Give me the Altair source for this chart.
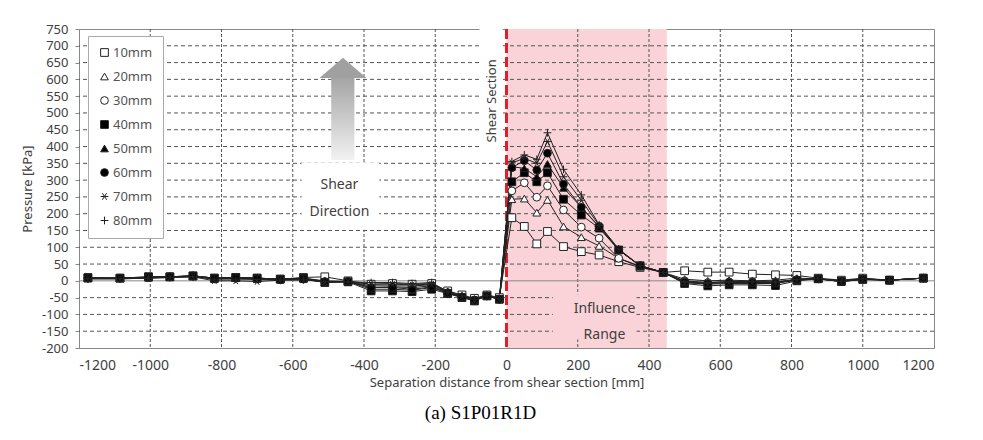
import altair as alt
import pandas as pd

# ---------------- data ----------------
x_left = [-1175, -1085, -1005, -945, -880, -820, -760, -700, -635, -570, -510,
          -445, -380, -320, -265, -210, -165, -125, -90, -55, -20]
x_right = [15, 50, 85, 115, 160, 210, 260, 315, 375, 440, 500,
           565, 625, 690, 755, 815, 875, 940, 1000, 1075, 1170]
x_pos = x_left + x_right

series_names = ["10mm", "20mm", "30mm", "40mm", "50mm", "60mm", "70mm", "80mm"]

p10 = [8, 8, 12, 12, 14, 8, 10, 8, 5, 10, 12, 0, -10, -8, -10, -8, -30, -42, -52, -42, -50,
       188, 162, 110, 147, 102, 87, 77, 57, 40, 25, 30, 26, 26, 20, 18, 16, 8, 2, 8, 2, 8]
p20 = [8, 8, 10, 12, 15, 8, 10, 8, 5, 8, 0, -2, -15, -15, -15, -12, -32, -45, -55, -45, -52,
       243, 245, 203, 241, 162, 130, 104, 67, 42, 25, 5, 0, 2, 0, 2, 8, 6, 0, 6, 2, 8]
p30 = [8, 8, 10, 12, 15, 8, 10, 8, 5, 8, -2, -2, -20, -18, -20, -15, -35, -48, -57, -45, -54,
       268, 292, 249, 283, 211, 160, 127, 67, 44, 25, 0, -5, -3, -3, -4, 4, 6, 0, 6, 2, 8]
p40 = [10, 8, 12, 12, 15, 8, 10, 8, 5, 8, -5, -3, -30, -30, -32, -25, -38, -50, -60, -45, -55,
       295, 322, 295, 322, 243, 196, 157, 92, 45, 25, -8, -15, -12, -12, -14, 0, 6, -2, 4, 2, 8]
p50 = [8, 8, 10, 12, 14, 6, 8, 6, 5, 6, -5, -2, -25, -25, -28, -20, -37, -48, -58, -45, -55,
       340, 335, 310, 348, 277, 219, 160, 92, 45, 25, -5, -10, -8, -8, -8, 2, 6, -2, 4, 2, 8]
p60 = [8, 8, 10, 12, 14, 6, 8, 6, 3, 5, -3, -2, -20, -20, -25, -18, -36, -48, -58, -45, -55,
       337, 358, 330, 380, 288, 219, 162, 92, 45, 25, -3, -8, -5, -5, -6, 3, 6, -2, 5, 2, 8]
p70 = [6, 6, 8, 10, 12, 0, 0, -2, 2, 3, -3, -3, -10, -10, -12, -10, -34, -46, -56, -45, -54,
       351, 365, 350, 415, 310, 240, 165, 92, 45, 25, -5, -8, -5, -4, -5, 3, 6, -2, 5, 2, 8]
p80 = [6, 6, 8, 10, 12, 5, 5, 4, 3, 3, -2, -3, -5, -5, -8, -5, -33, -45, -55, -44, -53,
       355, 375, 362, 441, 332, 256, 167, 95, 45, 25, -2, -5, -2, -2, -3, 4, 6, -1, 6, 2, 8]
all_series = [p10, p20, p30, p40, p50, p60, p70, p80]

x_ticks = [-1200, -1000, -800, -600, -400, -200, 0, 200, 400, 600, 800, 1000, 1200]
y_ticks = list(range(-200, 751, 50))
x_grid = [-1000, -800, -600, -400, -200, 200, 400, 600, 800, 1000]
y_grid = [v for v in range(-150, 701, 50) if v != 0]

shape_range = ["square", "triangle-up", "circle", "square", "triangle-up", "circle",
               "M-1,0H1M-0.55,-0.85L0.55,0.85M-0.55,0.85L0.55,-0.85",
               "M-1,0H1M0,-1V1"]
fill_range = ["white", "white", "white", "black", "black", "black", "black", "black"]
stroke_range = ["#222"] * 8

rows = []
for name, vals in zip(series_names, all_series):
    for xv, yv in zip(x_pos, vals):
        rows.append({"series": name, "x": xv, "y": yv})
df = pd.DataFrame(rows)

# annotation data (data units)
influence_zone = pd.DataFrame({"x": [0], "x2": [450], "y": [-200], "y2": [750]})
white_boxes = pd.DataFrame({"x": [-575, -76], "x2": [-357, -11], "y": [152, 381], "y2": [351, 750]})
pink_box = pd.DataFrame({"x": [130], "x2": [365], "y": [-40], "y2": [-175]})
arrow_shaft = pd.DataFrame({"x": [-492], "x2": [-427], "y": [360], "y2": [606]})
arrow_head = pd.DataFrame({"x": [-459], "y": [634]})
labels_h = pd.DataFrame({"x": [-469, -469, 275, 275], "y": [284, 206, -83, -161],
                         "t": ["Shear", "Direction", "Influence", "Range"]})
label_v = pd.DataFrame({"x": [-41], "y": [536], "t": ["Shear Section"]})
zero_df = pd.DataFrame({"y": [0]})
shear_line = pd.DataFrame({"x": [0]})

FONT = "Noto Sans"
TXT = "#404040"

xs = alt.Scale(domain=[-1200, 1200], nice=False, zero=False)
ys = alt.Scale(domain=[-200, 750], nice=False, zero=False)

x_axis = alt.Axis(values=x_ticks, grid=False, ticks=False, labelFontSize=14, labelColor=TXT,
                  labelFont=FONT, labelPadding=10, domainColor="#888",
                  labelExpr="datum.value + ''",
                  title="Separation distance from shear section [mm]", titleFont=FONT,
                  titleFontSize=13, titleFontWeight="normal", titleColor=TXT, titlePadding=4)
y_axis = alt.Axis(values=y_ticks, grid=False, tickSize=4, tickColor="#888", labelFontSize=13,
                  labelColor=TXT, labelFont=FONT, labelPadding=7, domainColor="#888",
                  labelExpr="datum.value + ''",
                  title="Pressure [kPa]", titleFont=FONT, titleFontSize=13,
                  titleFontWeight="normal", titleColor=TXT, titlePadding=7)


def X(field="x"):
    return alt.X(f"{field}:Q", scale=xs, axis=x_axis)


def Y(field="y"):
    return alt.Y(f"{field}:Q", scale=ys, axis=y_axis)


zone = alt.Chart(influence_zone).mark_rect(color="#f9d3d7").encode(
    x=X(), x2="x2", y=Y(), y2="y2")

vgrid = alt.Chart(pd.DataFrame({"x": x_grid})).mark_rule(
    color="#555", strokeWidth=1, strokeDash=[3, 2]).encode(x=X())
hgrid = alt.Chart(pd.DataFrame({"y": y_grid})).mark_rule(
    color="#555", strokeWidth=1, strokeDash=[4, 3]).encode(y=Y())
zero = alt.Chart(zero_df).mark_rule(color="#888", strokeWidth=1).encode(y=Y())

wbox = alt.Chart(white_boxes).mark_rect(color="white").encode(
    x=X(), x2="x2", y=Y(), y2="y2")
pbox = alt.Chart(pink_box).mark_rect(color="#f9d3d7").encode(
    x=X(), x2="x2", y=Y(), y2="y2")

shaft = alt.Chart(arrow_shaft).mark_rect(
    color=alt.LinearGradient(gradient="linear",
                             stops=[alt.GradientStop(color="#a4a4a4", offset=0),
                                    alt.GradientStop(color="#f2f2f2", offset=1)],
                             x1=0, x2=0, y1=0, y2=1)).encode(
    x=X(), x2="x2", y=Y(), y2="y2")
head = alt.Chart(arrow_head).mark_point(
    shape="M-1,0.43L0,-0.43L1,0.43Z", size=2209, filled=True, color="#a0a0a0", opacity=1).encode(
    x=X(), y=Y())

txt_h = alt.Chart(labels_h).mark_text(font=FONT, fontSize=14, color=TXT).encode(
    x=X(), y=Y(), text="t:N")
txt_v = alt.Chart(label_v).mark_text(font=FONT, fontSize=13, color=TXT, angle=270).encode(
    x=X(), y=Y(), text="t:N")

red = alt.Chart(shear_line).mark_rule(color="#e41e26", strokeWidth=3, strokeDash=[10, 4]).encode(
    x=X())

lines = alt.Chart(df).mark_line(color="#222", strokeWidth=1).encode(
    x=X(), y=Y(), detail="series:N", order="x:Q")

leg = alt.Legend(title=None, orient="none", legendX=9, legendY=7, fillColor="white",
                 strokeColor="#aaa", padding=10, rowPadding=10, labelFontSize=13,
                 labelColor="#555", labelFont=FONT, symbolSize=60,
                 symbolStrokeWidth=1, labelOffset=2)
points = alt.Chart(df).mark_point(size=60, strokeWidth=1, opacity=1).encode(
    x=X(), y=Y(),
    shape=alt.Shape("series:N", scale=alt.Scale(domain=series_names, range=shape_range),
                    legend=leg),
    fill=alt.Fill("series:N", scale=alt.Scale(domain=series_names, range=fill_range),
                  legend=leg),
    stroke=alt.Stroke("series:N", scale=alt.Scale(domain=series_names, range=stroke_range),
                      legend=leg))

chart = alt.layer(zone, vgrid, hgrid, zero, wbox, pbox, shaft, head, txt_h, txt_v, red,
                  lines, points).properties(
    width=855, height=319,
    autosize=alt.AutoSizeParams(type="none"),
    padding={"left": 71, "top": 21, "right": 41, "bottom": 84},
    title=alt.TitleParams("(a)  S1P01R1D", orient="bottom", font="Liberation Serif",
                          fontSize=19, fontWeight="normal", color="black", anchor="middle",
                          dx=-26, offset=15),
).configure_view(stroke="#888", strokeWidth=1)

chart.save("out.html", embed_options={"renderer": "svg", "actions": False})
